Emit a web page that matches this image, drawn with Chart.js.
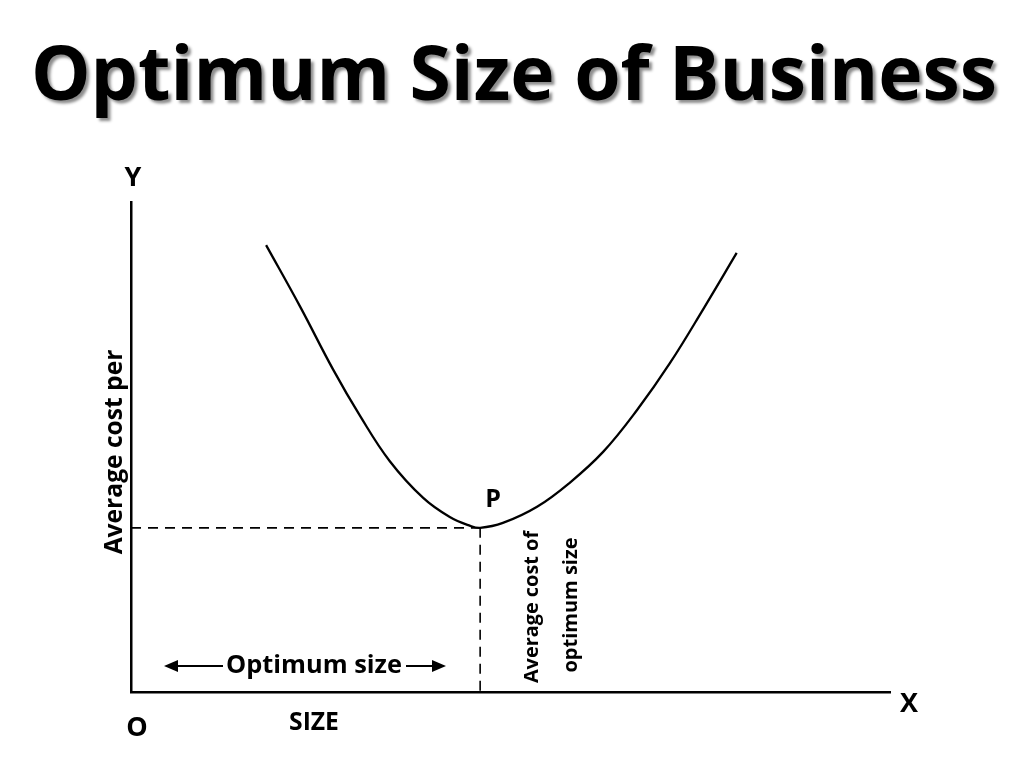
<!DOCTYPE html>
<html>
<head>
<meta charset="utf-8">
<script src="https://cdn.jsdelivr.net/npm/chart.js@4.4.0/dist/chart.umd.min.js"></script>
<style>
  body { margin: 0; background: #fff; }
  canvas { display: block; }
</style>
</head>
<body>
<canvas id="chart" width="1024" height="777"></canvas>
<script>
// values (x = size, y = average cost per unit, both 0..100)
const sizeValues = [17.8, 22.3, 26.6, 30.2, 34.1, 38.5, 42.0, 44.7, 46.0, 49.0, 53.5, 57.8, 62.2, 66.7, 71.0, 75.5, 79.8];
const costValues = [91.2, 78.6, 65.9, 56.3, 47.1, 39.6, 35.7, 33.9, 33.5, 34.5, 37.8, 42.7, 49.0, 57.6, 67.1, 78.4, 89.6];
const optimumSize = 46.0;
const optimumCost = 33.5;

const titleText = 'Optimum Size of Business';
const yAxisLabel = 'Average cost per';
const noteLines = ['Average cost of', 'optimum size'];

const curve = sizeValues.map((x, i) => ({ x: x, y: costValues[i] }));

// pick a font size so the text is about as wide as in the picture
function fitFont(ctx, text, width, weight) {
  ctx.font = weight + ' 20px "Open Sans"';
  const s = 20 * width / ctx.measureText(text).width;
  return weight + ' ' + s.toFixed(1) + 'px "Open Sans"';
}

function arrowHead(ctx, x, y, dir) {
  ctx.beginPath();
  ctx.moveTo(x, y);
  ctx.lineTo(x - dir * 14, y - 6);
  ctx.lineTo(x - dir * 14, y + 6);
  ctx.closePath();
  ctx.fill();
}

const textPlugin = {
  id: 'texts',
  afterDraw(chart) {
    const ctx = chart.ctx;
    const xs = chart.scales.x, ys = chart.scales.y;
    const left = xs.left, bottom = ys.bottom, top = ys.top, right = xs.right;
    ctx.save();
    ctx.fillStyle = '#000';
    ctx.strokeStyle = '#000';
    ctx.textAlign = 'center';

    // title with soft shadow
    ctx.font = fitFont(ctx, titleText, 966, 'bold');
    ctx.textBaseline = 'alphabetic';
    ctx.shadowColor = 'rgba(0,0,0,0.45)';
    ctx.shadowOffsetX = 3;
    ctx.shadowOffsetY = 3;
    ctx.shadowBlur = 3;
    ctx.fillText(titleText, 514, 100);
    ctx.shadowColor = 'transparent';

    // axis letters
    ctx.font = 'bold 27px "Open Sans"';
    ctx.textBaseline = 'middle';
    ctx.fillText('Y', left + 2, top - 24);
    ctx.fillText('X', right + 19, bottom + 12);
    ctx.fillText('O', left + 6, bottom + 36);
    ctx.font = fitFont(ctx, 'SIZE', 50, 'bold');
    ctx.fillText('SIZE', 314, bottom + 31);

    // point P
    const px = xs.getPixelForValue(optimumSize);
    const py = ys.getPixelForValue(optimumCost);
    ctx.font = 'bold 25px "Open Sans"';
    ctx.fillText('P', px + 13, py - 28);

    // rotated y label
    ctx.font = fitFont(ctx, yAxisLabel, 205, 'bold');
    ctx.save();
    ctx.translate(left - 16, 452);
    ctx.rotate(-Math.PI / 2);
    ctx.fillText(yAxisLabel, 0, 0);
    ctx.restore();

    // note next to the dashed drop line
    ctx.save();
    ctx.translate(px + 52, 607);
    ctx.rotate(-Math.PI / 2);
    ctx.font = fitFont(ctx, noteLines[0], 152, 'bold');
    ctx.fillText(noteLines[0], 0, 0);
    ctx.font = fitFont(ctx, noteLines[1], 135, 'bold');
    ctx.fillText(noteLines[1], 2, 39);
    ctx.restore();

    // "Optimum size" with arrows
    const ay = bottom - 26;
    ctx.font = fitFont(ctx, 'Optimum size', 176, 'bold');
    ctx.fillText('Optimum size', 314, ay);
    ctx.lineWidth = 2;
    ctx.beginPath();
    ctx.moveTo(174, ay);
    ctx.lineTo(223, ay);
    ctx.moveTo(406, ay);
    ctx.lineTo(434, ay);
    ctx.stroke();
    arrowHead(ctx, 164, ay, -1);
    arrowHead(ctx, 446, ay, 1);
    ctx.restore();
  }
};

new Chart(document.getElementById('chart'), {
  type: 'scatter',
  data: {
    datasets: [
      {
        data: curve,
        showLine: true,
        borderColor: '#000',
        borderWidth: 2.3,
        pointRadius: 0,
        tension: 0.4
      },
      {
        data: [{ x: 0, y: optimumCost }, { x: optimumSize, y: optimumCost }],
        showLine: true,
        borderColor: '#000',
        borderWidth: 1.6,
        borderDash: [10, 7],
        pointRadius: 0
      },
      {
        data: [{ x: optimumSize, y: optimumCost }, { x: optimumSize, y: 0 }],
        showLine: true,
        borderColor: '#000',
        borderWidth: 1.6,
        borderDash: [10, 7],
        pointRadius: 0
      }
    ]
  },
  options: {
    responsive: false,
    animation: false,
    layout: { padding: { left: 131, right: 134, top: 202, bottom: 85 } },
    plugins: {
      legend: { display: false },
      tooltip: { enabled: false }
    },
    scales: {
      x: {
        type: 'linear', min: 0, max: 100,
        ticks: { display: false },
        grid: { display: false, drawTicks: false },
        border: { display: true, color: '#000', width: 2.5 }
      },
      y: {
        type: 'linear', min: 0, max: 100,
        ticks: { display: false },
        grid: { display: false, drawTicks: false },
        border: { display: true, color: '#000', width: 2.5 }
      }
    }
  },
  plugins: [textPlugin]
});
</script>
</body>
</html>
